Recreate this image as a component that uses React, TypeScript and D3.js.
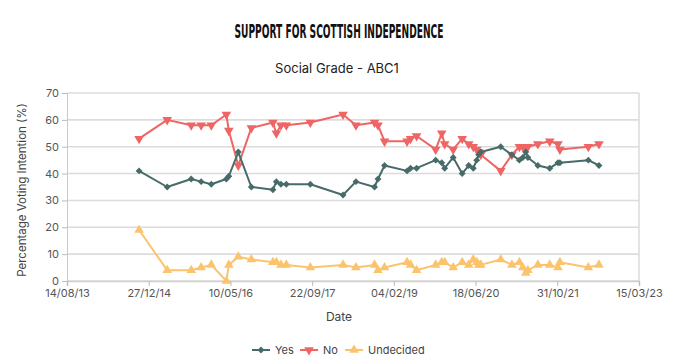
import * as d3 from "d3"
import { useEffect, useRef } from "react"

const W = 676
const H = 359
const margin = { top: 93, right: 37, bottom: 78, left: 67 }
const innerW = W - margin.left - margin.right
const innerH = H - margin.top - margin.bottom

const YES_COLOR = "#476b69"
const NO_COLOR = "#ef6464"
const UND_COLOR = "#fbc46c"
const FONT = "Inter, 'Noto Sans', sans-serif"

// poll dates (fieldwork)
const dates = [
  "2014-10-29", "2015-04-19", "2015-09-13", "2015-11-13", "2016-01-14",
  "2016-04-15", "2016-04-30", "2016-06-27", "2016-09-15", "2017-01-25",
  "2017-02-15", "2017-03-15", "2017-04-17", "2017-09-11", "2018-03-30",
  "2018-06-17", "2018-10-09", "2018-10-30", "2018-12-09", "2019-04-26",
  "2019-05-17", "2019-06-23", "2019-10-18", "2019-11-24", "2019-12-12",
  "2020-02-02", "2020-03-28", "2020-05-07", "2020-06-04", "2020-06-25",
  "2020-07-07", "2020-07-20", "2020-11-19", "2021-01-26", "2021-03-13",
  "2021-04-03", "2021-04-21", "2021-05-04", "2021-07-04", "2021-09-15",
  "2021-11-04", "2021-11-16", "2022-05-09", "2022-07-13",
]

const yes = [
  41, 35, 38, 37, 36, 38, 39, 48, 35, 34,
  37, 36, 36, 36, 32, 37, 35, 38, 43, 41,
  42, 42, 45, 44, 42, 46, 40, 43, 42, 45,
  47, 48, 50, 47, 45, 46, 48, 46, 43, 42,
  44, 44, 45, 43,
]

const no = [
  53, 60, 58, 58, 58, 62, 56, 43, 57, 59,
  55, 58, 58, 59, 62, 58, 59, 58, 52, 52,
  53, 54, 49, 55, 51, 49, 53, 51, 50, 49,
  48, 47, 41, 47, 50, 50, 50, 50, 51, 52,
  51, 49, 50, 51,
]

const undecided = [
  19, 4, 4, 5, 6, 0, 6, 9, 8, 7,
  7, 6, 6, 5, 6, 5, 6, 4, 5, 7,
  6, 4, 6, 7, 7, 5, 7, 6, 8, 7,
  6, 6, 8, 6, 7, 5, 3, 4, 6, 6,
  5, 7, 5, 6,
]

const xTicks = ["2013-08-14", "2014-12-27", "2016-05-10", "2017-09-22", "2019-02-04", "2020-06-18", "2021-10-31", "2023-03-15"]
const yTicks = [0, 10, 20, 30, 40, 50, 60, 70]

const seriesNames = ["Yes", "No", "Undecided"]

export default function App() {
  const svgRef = useRef<SVGSVGElement | null>(null)

  useEffect(() => {
    document.body.style.margin = "0"
    if (!svgRef.current) return
    const parse = d3.timeParse("%Y-%m-%d")
    const fmt = d3.timeFormat("%d/%m/%y")

    const svg = d3.select(svgRef.current)
    svg.selectAll("*").remove()

    const x = d3
      .scaleTime()
      .domain([parse(xTicks[0])!, parse(xTicks[xTicks.length - 1])!])
      .range([0, innerW])
    const y = d3.scaleLinear().domain([0, 70]).range([innerH, 0])

    // Title
    svg
      .append("text")
      .attr("x", 339)
      .attr("y", 37.5)
      .attr("text-anchor", "middle")
      .attr("textLength", 209)
      .attr("lengthAdjust", "spacingAndGlyphs")
      .style("font-family", "'Liberation Sans Narrow', 'DejaVu Sans Condensed', sans-serif")
      .style("font-weight", "bold")
      .style("font-size", "20px")
      .style("fill", "#111")
      .text("SUPPORT FOR SCOTTISH INDEPENDENCE")

    svg
      .append("text")
      .attr("x", 337)
      .attr("y", 72.5)
      .attr("text-anchor", "middle")
      .style("font-family", FONT)
      .style("font-size", "13px")
      .style("fill", "#222")
      .text("Social Grade - ABC1")

    const chart = svg.append("g").attr("transform", `translate(${margin.left},${margin.top})`)

    // Grid lines
    chart
      .append("g")
      .selectAll("line")
      .data(yTicks)
      .enter()
      .append("line")
      .attr("x1", 0)
      .attr("x2", innerW)
      .attr("y1", (d) => y(d))
      .attr("y2", (d) => y(d))
      .attr("stroke", "#dcdcdc")
      .attr("stroke-width", 1.6)

    // right border
    chart
      .append("line")
      .attr("x1", innerW)
      .attr("x2", innerW)
      .attr("y1", 0)
      .attr("y2", innerH)
      .attr("stroke", "#dcdcdc")
      .attr("stroke-width", 1.6)

    // Y axis
    const yAxis = chart
      .append("g")
      .call(d3.axisLeft(y).tickValues(yTicks).tickSize(5).tickPadding(3))
    yAxis.select(".domain").attr("stroke", "#c8c8c8")
    yAxis.selectAll(".tick line").attr("stroke", "#bbb")
    yAxis
      .selectAll("text")
      .style("font-family", FONT)
      .style("font-size", "11px")
      .style("fill", "#555")

    // X axis
    const xAxis = chart
      .append("g")
      .attr("transform", `translate(0,${innerH})`)
      .call(
        d3
          .axisBottom(x)
          .tickValues(xTicks.map((d) => parse(d)!))
          .tickFormat((d) => fmt(d as Date))
          .tickSize(5)
          .tickPadding(3),
      )
    xAxis.select(".domain").attr("stroke", "#d0d0d0").attr("stroke-width", 1.6)
    xAxis.selectAll(".tick line").attr("stroke", "#bbb")
    xAxis
      .selectAll("text")
      .style("font-family", FONT)
      .style("font-size", "11px")
      .style("fill", "#555")

    // Axis labels
    svg
      .append("text")
      .attr("text-anchor", "middle")
      .attr("x", 339)
      .attr("y", 321)
      .style("font-family", FONT)
      .style("font-size", "12px")
      .style("fill", "#444")
      .text("Date")

    svg
      .append("text")
      .attr("text-anchor", "middle")
      .attr("transform", "rotate(-90)")
      .attr("x", -190)
      .attr("y", 26)
      .style("font-family", FONT)
      .style("font-size", "11.5px")
      .style("fill", "#444")
      .text("Percentage Voting Intention (%)")

    const diamond = d3.symbol().type(d3.symbolSquare).size(24)()
    const tri = d3.symbol().type(d3.symbolTriangle).size(40)()

    const series = [
      { name: seriesNames[0], values: yes, color: YES_COLOR, path: diamond, rot: 45 },
      { name: seriesNames[1], values: no, color: NO_COLOR, path: tri, rot: 180 },
      { name: seriesNames[2], values: undecided, color: UND_COLOR, path: tri, rot: 0 },
    ]

    const line = d3
      .line<[Date, number]>()
      .x((d) => x(d[0]))
      .y((d) => y(d[1]))

    // draw undecided first, then no, then yes on top
    ;[series[2], series[1], series[0]].forEach((s) => {
      const pts: [Date, number][] = dates.map((d, i) => [parse(d)!, s.values[i]])
      chart
        .append("path")
        .datum(pts)
        .attr("d", line)
        .attr("fill", "none")
        .attr("stroke", s.color)
        .attr("stroke-width", 2)
        .attr("stroke-linejoin", "round")

      chart
        .append("g")
        .selectAll("path")
        .data(pts)
        .enter()
        .append("path")
        .attr("d", s.path)
        .attr("transform", (d) => `translate(${x(d[0])},${y(d[1])}) rotate(${s.rot})`)
        .attr("fill", s.color)
    })

    // Legend
    const legendX = [252, 300, 345]
    const legend = svg.append("g").attr("transform", "translate(0,350)")
    series.forEach((s, i) => {
      const g = legend.append("g").attr("transform", `translate(${legendX[i]},0)`)
      g.append("line")
        .attr("x1", 0)
        .attr("x2", 18)
        .attr("stroke", s.color)
        .attr("stroke-width", 2)
      g.append("path")
        .attr("d", s.path)
        .attr("transform", `translate(9,0) rotate(${s.rot})`)
        .attr("fill", s.color)
      g.append("text")
        .attr("x", 23)
        .attr("y", 4)
        .style("font-family", FONT)
        .style("font-size", "11px")
        .style("fill", "#444")
        .text(s.name)
    })
  }, [])

  return <svg ref={svgRef} width={W} height={H} style={{ display: "block" }} />
}
